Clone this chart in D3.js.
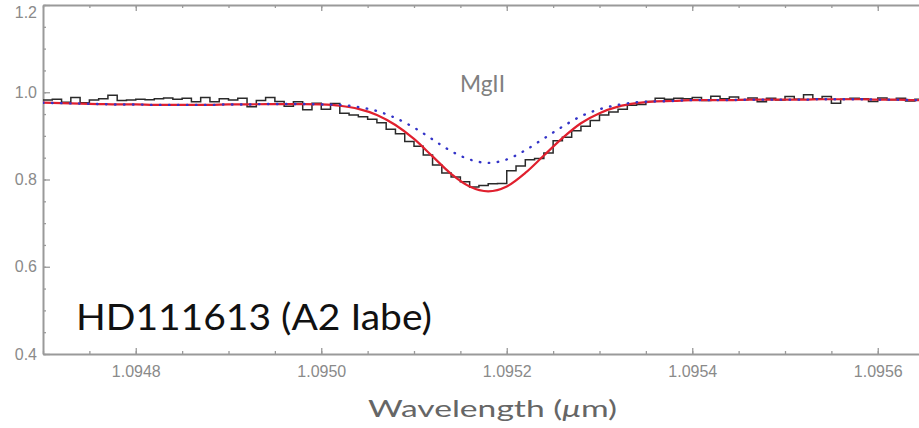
<!DOCTYPE html>
<html>
<head>
<meta charset="utf-8">
<script src="https://cdn.jsdelivr.net/npm/d3@7"></script>
<style>
	html, body { margin: 0; padding: 0; background: #fff; }
	svg { display: block; }
</style>
</head>
<body>
<script>
'use strict'

// observed spectrum, bins of 0.00001 um starting at 1.09470
const binStart = 1.0947;
const binWidth = 0.00001;
const observed = [
	0.982, 0.984, 0.977, 0.988, 0.976, 0.982, 0.985, 0.993, 0.981, 0.982,
	0.984, 0.983, 0.985, 0.987, 0.984, 0.986, 0.978, 0.988, 0.978, 0.985,
	0.982, 0.986, 0.967, 0.981, 0.988, 0.979, 0.968, 0.978, 0.960, 0.975,
	0.961, 0.974, 0.952, 0.948, 0.944, 0.938, 0.930, 0.915, 0.905, 0.887,
	0.876, 0.856, 0.833, 0.815, 0.806, 0.795, 0.783, 0.786, 0.790, 0.791,
	0.820, 0.831, 0.845, 0.848, 0.861, 0.889, 0.897, 0.912, 0.922, 0.935,
	0.948, 0.955, 0.961, 0.970, 0.972, 0.979, 0.986, 0.984, 0.986, 0.985,
	0.988, 0.981, 0.991, 0.985, 0.989, 0.983, 0.987, 0.978, 0.986, 0.982,
	0.990, 0.984, 0.994, 0.985, 0.990, 0.975, 0.984, 0.986, 0.985, 0.979,
	0.987, 0.983, 0.986, 0.980, 0.984, 0.983, 0.985, 0.982, 0.984, 0.983
];

// model grid, every 0.00002 um starting at 1.09470
const modelStart = 1.0947;
const modelStep = 0.00002;
const fitTotal = [
	0.976, 0.975, 0.974, 0.973, 0.972, 0.972, 0.971, 0.971, 0.971, 0.971,
	0.972, 0.972, 0.973, 0.973, 0.973, 0.972, 0.969, 0.962, 0.948, 0.925,
	0.893, 0.853, 0.813, 0.784, 0.773, 0.784, 0.815, 0.855, 0.895, 0.929,
	0.952, 0.967, 0.975, 0.979, 0.980, 0.982, 0.982, 0.982, 0.983, 0.983,
	0.983, 0.983, 0.984, 0.984, 0.984, 0.983, 0.983, 0.982, 0.982, 0.982,
	0.981
];
const fitMg = [
	0.976, 0.975, 0.974, 0.973, 0.972, 0.972, 0.971, 0.971, 0.971, 0.971,
	0.972, 0.972, 0.973, 0.973, 0.973, 0.972, 0.971, 0.966, 0.957, 0.941,
	0.919, 0.892, 0.865, 0.846, 0.838, 0.846, 0.867, 0.894, 0.921, 0.945,
	0.961, 0.971, 0.977, 0.979, 0.980, 0.982, 0.982, 0.982, 0.983, 0.983,
	0.983, 0.983, 0.984, 0.984, 0.984, 0.983, 0.983, 0.982, 0.982, 0.982,
	0.981
];

const xTicks = [1.0948, 1.0950, 1.0952, 1.0954, 1.0956];
const yTicks = [0.4, 0.6, 0.8, 1.0, 1.2];
const lineLabel = 'MgII';
const starLabel = 'HD111613 (A2 Iabe)';

;(() => {
	const width = 919, height = 428;
	const plot = { left: 43, right: 970.5, top: 5, bottom: 354 };
	const axisColor = '#9a9a9a';
	const labelColor = '#8a8a8a';

	const x = d3.scaleLinear().domain([1.0947, 1.0957]).range([plot.left, plot.right]);
	const y = d3.scaleLinear().domain([0.4, 1.2]).range([plot.bottom, plot.top]);

	const xMinor = d3.range(0, 21).map(i => 1.0947 + i * 0.00005);
	const yMinor = d3.range(0, 17).map(i => 0.4 + i * 0.05);

	const svg = d3.select('body').append('svg')
		.attr('width', width)
		.attr('height', height);

	svg.append('defs').append('clipPath').attr('id', 'plotClip')
		.append('rect')
		.attr('x', plot.left).attr('y', plot.top)
		.attr('width', plot.right - plot.left)
		.attr('height', plot.bottom - plot.top);

	// axes, ticks pointing inwards
	function styleAxis(g, labels) {
		g.selectAll('.domain').attr('stroke', axisColor).attr('stroke-width', 2);
		g.selectAll('.tick line').attr('stroke', axisColor).attr('stroke-width', 1.3);
		g.selectAll('.tick text')
			.attr('fill', labels ? labelColor : 'none')
			.style('font-family', '"Liberation Sans", Arial, sans-serif')
			.style('font-size', '16px');
	}

	const bottom = svg.append('g').attr('transform', `translate(0,${plot.bottom})`);
	bottom.call(d3.axisBottom(x).tickValues(xMinor).tickSize(-3).tickSizeOuter(0).tickFormat(''));
	styleAxis(bottom, false);
	const bottomMajor = svg.append('g').attr('transform', `translate(0,${plot.bottom})`);
	bottomMajor.call(d3.axisBottom(x).tickValues(xTicks).tickSize(-6).tickSizeOuter(0)
		.tickPadding(12).tickFormat(d3.format('.4f')));
	bottomMajor.select('.domain').remove();
	styleAxis(bottomMajor, true);

	const top = svg.append('g').attr('transform', `translate(0,${plot.top})`);
	top.call(d3.axisTop(x).tickValues(xMinor).tickSize(-3).tickSizeOuter(0).tickFormat(''));
	styleAxis(top, false);
	const topMajor = svg.append('g').attr('transform', `translate(0,${plot.top})`);
	topMajor.call(d3.axisTop(x).tickValues(xTicks).tickSize(-6).tickSizeOuter(0).tickFormat(''));
	topMajor.select('.domain').remove();
	styleAxis(topMajor, false);

	const left = svg.append('g').attr('transform', `translate(${plot.left},0)`);
	left.call(d3.axisLeft(y).tickValues(yMinor).tickSize(-3).tickSizeOuter(0).tickFormat(''));
	styleAxis(left, false);
	const leftMajor = svg.append('g').attr('transform', `translate(${plot.left},0)`);
	leftMajor.call(d3.axisLeft(y).tickValues(yTicks).tickSize(-7).tickSizeOuter(0)
		.tickPadding(6).tickFormat(d3.format('.1f')));
	leftMajor.select('.domain').remove();
	styleAxis(leftMajor, true);
	// the top label sits just under the frame so it stays on the page
	leftMajor.selectAll('.tick text').filter(d => d === 1.2).attr('dy', '0.8em');

	const right = svg.append('g').attr('transform', `translate(${plot.right},0)`);
	right.call(d3.axisRight(y).tickValues(yMinor).tickSize(-3).tickSizeOuter(0).tickFormat(''));
	styleAxis(right, false);

	// spectrum and fits
	const curves = svg.append('g').attr('clip-path', 'url(#plotClip)');

	const binEdges = observed.map((v, i) => ({ w: binStart + i * binWidth, v: v }));
	binEdges.push({ w: binStart + observed.length * binWidth, v: observed[observed.length - 1] });

	curves.append('path')
		.datum(binEdges)
		.attr('fill', 'none')
		.attr('stroke', '#2a2a2a')
		.attr('stroke-width', 1.5)
		.attr('d', d3.line().curve(d3.curveStepAfter).x(d => x(d.w)).y(d => y(d.v)));

	const modelLine = d3.line().curve(d3.curveMonotoneX)
		.x((d, i) => x(modelStart + i * modelStep))
		.y(d => y(d));

	curves.append('path')
		.datum(fitTotal)
		.attr('fill', 'none')
		.attr('stroke', '#e0202e')
		.attr('stroke-width', 2.2)
		.attr('d', modelLine);

	curves.append('path')
		.datum(fitMg)
		.attr('fill', 'none')
		.attr('stroke', '#3434c8')
		.attr('stroke-width', 2.4)
		.attr('stroke-linecap', 'round')
		.attr('stroke-dasharray', '0.5 8.5')
		.attr('d', modelLine);

	// labels
	const gothic = 'Lato, "Open Sans", "DejaVu Sans", sans-serif';

	svg.append('text')
		.attr('x', 460).attr('y', 92)
		.attr('textLength', 45).attr('lengthAdjust', 'spacingAndGlyphs')
		.attr('fill', '#808080')
		.style('font-family', gothic)
		.style('font-size', '23px')
		.text(lineLabel);

	svg.append('text')
		.attr('x', 76).attr('y', 330)
		.attr('textLength', 356).attr('lengthAdjust', 'spacingAndGlyphs')
		.attr('fill', '#111')
		.style('font-family', gothic)
		.style('font-size', '36px')
		.text(starLabel);

	const xTitle = svg.append('text')
		.attr('x', 368).attr('y', 417)
		.attr('textLength', 249).attr('lengthAdjust', 'spacingAndGlyphs')
		.attr('fill', '#666')
		.style('font-family', gothic)
		.style('font-size', '24px');
	xTitle.append('tspan').text('Wavelength (');
	xTitle.append('tspan').style('font-style', 'italic').text('\u03bc');
	xTitle.append('tspan').text('m)');
})();
</script>
</body>
</html>
